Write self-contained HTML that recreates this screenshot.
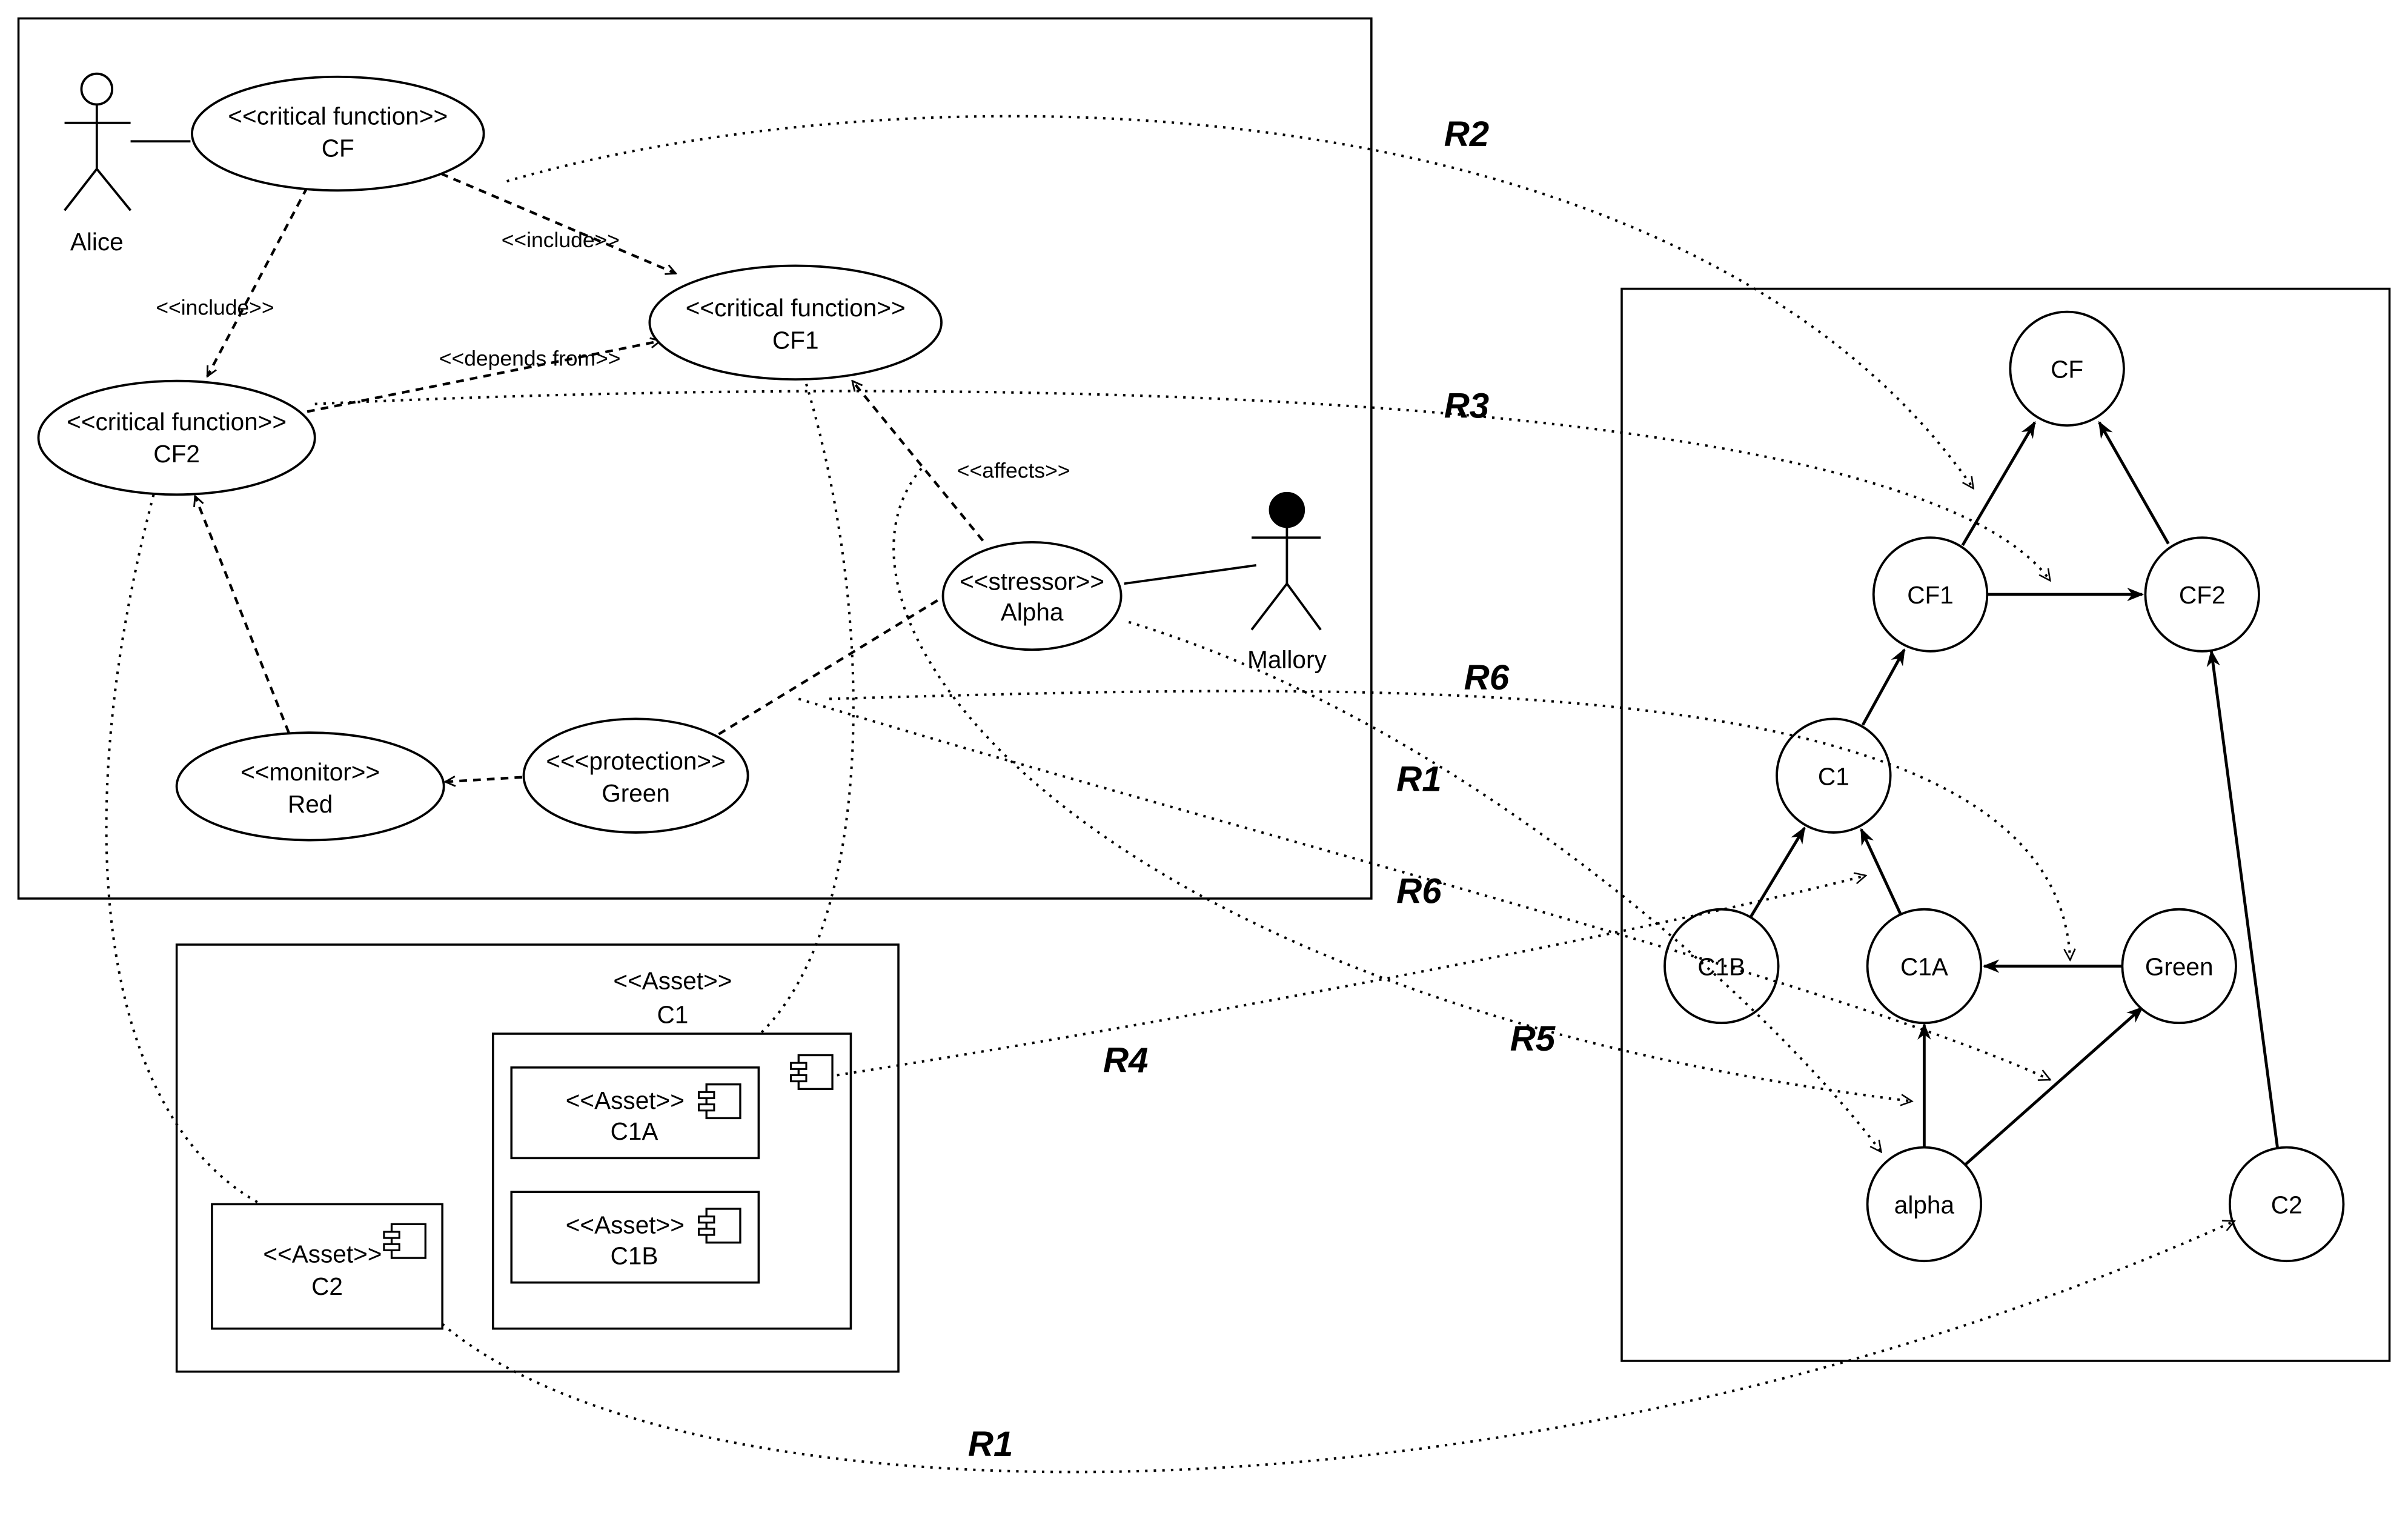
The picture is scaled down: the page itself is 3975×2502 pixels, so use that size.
<!DOCTYPE html>
<html><head><meta charset="utf-8"><style>html,body{margin:0;padding:0;background:#fff}svg{display:block}</style></head>
<body>
<svg width="3975" height="2502" viewBox="0 0 1568 987" xmlns="http://www.w3.org/2000/svg" font-family="Liberation Sans, Arial, sans-serif">
<defs>
<marker id="oa" viewBox="0 0 10 10" refX="9" refY="5" markerWidth="8" markerHeight="8" orient="auto" markerUnits="userSpaceOnUse"><path d="M1,1 L9,5 L1,9" fill="none" stroke="#000" stroke-width="1.4"/></marker>
<marker id="sa" viewBox="0 0 10 10" refX="9" refY="5" markerWidth="11" markerHeight="11" orient="auto" markerUnits="userSpaceOnUse"><path d="M0,1 L10,5 L0,9 L3,5 z" fill="#000"/></marker>
<marker id="da" viewBox="0 0 10 10" refX="9" refY="5" markerWidth="9" markerHeight="9" orient="auto" markerUnits="userSpaceOnUse"><path d="M1,1 L9,5 L1,9" fill="none" stroke="#000" stroke-width="1.1"/></marker>
<g id="comp"><rect x="0" y="0" width="22" height="22" fill="#fff" stroke="#000" stroke-width="1.3"/><rect x="-5" y="5" width="10" height="4" fill="#fff" stroke="#000" stroke-width="1.2"/><rect x="-5" y="13" width="10" height="4" fill="#fff" stroke="#000" stroke-width="1.2"/></g>
</defs>
<rect width="1568" height="987" fill="#fff"/>
<g fill="none" stroke="#000" stroke-width="1.4">
<rect x="12" y="12" width="881" height="573"/>
<rect x="115" y="615" width="470" height="278"/>
<rect x="321" y="673" width="233" height="192"/>
<rect x="333" y="695" width="161" height="59"/>
<rect x="333" y="776" width="161" height="59"/>
<rect x="138" y="784" width="150" height="81"/>
<rect x="1056" y="188" width="500" height="698"/>
</g>
<use href="#comp" x="520" y="687"/>
<use href="#comp" x="460" y="706"/>
<use href="#comp" x="460" y="787"/>
<use href="#comp" x="255" y="797"/>
<!-- dashed arrows -->
<g fill="none" stroke="#000" stroke-width="1.7" stroke-dasharray="5 4" marker-end="url(#oa)">
<path d="M287,113 L440,178"/>
<path d="M200,122 L135,245"/>
<path d="M200,268 L430,222"/>
<path d="M640,352 L555,248"/>
<path d="M188,477 L127,323"/>
<path d="M468,478 L625,382"/>
<path d="M340,506 L290,509"/>
</g>
<!-- ellipses -->
<g fill="#fff" stroke="#000" stroke-width="1.5">
<ellipse cx="220" cy="87" rx="95" ry="37"/>
<ellipse cx="518" cy="210" rx="95" ry="37"/>
<ellipse cx="115" cy="285" rx="90" ry="37"/>
<ellipse cx="672" cy="388" rx="58" ry="35"/>
<ellipse cx="202" cy="512" rx="87" ry="35"/>
<ellipse cx="414" cy="505" rx="73" ry="37"/>
</g>
<!-- actors -->
<g fill="none" stroke="#000" stroke-width="1.5">
<circle cx="63" cy="58" r="10" fill="#fff"/>
<path d="M63,68 V110 M42,80 H85 M63,110 L42,137 M63,110 L85,137"/>
<path d="M85,92 H124"/>
<circle cx="838" cy="332" r="11" fill="#000"/>
<path d="M838,343 V380 M815,350 H860 M838,380 L815,410 M838,380 L860,410"/>
<path d="M732,380 L818,368"/>
</g>
<!-- right graph -->
<g stroke="#000" stroke-width="1.9" marker-end="url(#sa)">
<path d="M1278,355 L1325,275"/>
<path d="M1412,354 L1367,275"/>
<path d="M1294,387 L1395,387"/>
<path d="M1213,472 L1240,423"/>
<path d="M1140,597 L1175,539"/>
<path d="M1238,596 L1212,540"/>
<path d="M1382,629 L1292,629"/>
<path d="M1253,747 L1253,667"/>
<path d="M1280,758 L1395,656"/>
<path d="M1483,747 L1440,424"/>
</g>
<g fill="#fff" stroke="#000" stroke-width="1.5">
<circle cx="1346" cy="240" r="37"/><circle cx="1257" cy="387" r="37"/><circle cx="1434" cy="387" r="37"/>
<circle cx="1194" cy="505" r="37"/><circle cx="1121" cy="629" r="37"/><circle cx="1253" cy="629" r="37"/>
<circle cx="1419" cy="629" r="37"/><circle cx="1253" cy="784" r="37"/><circle cx="1489" cy="784" r="37"/>
</g>
<!-- dotted curves -->
<g fill="none" stroke="#000" stroke-width="1.6" stroke-dasharray="1.6 4" marker-end="url(#da)">
<path d="M330,118 C600,40 1100,50 1285,318"/>
<path d="M205,263 C700,240 1250,260 1335,378"/>
<path d="M540,455 C900,445 1340,430 1348,625"/>
<path d="M735,405 C950,470 1150,650 1225,750"/>
<path d="M520,455 C800,540 1200,640 1335,703"/>
<path d="M600,305 C520,400 700,650 1245,717"/>
<path d="M545,700 C800,660 1100,600 1215,570"/>
<path d="M288,862 C450,1000 1000,1000 1455,795"/>
</g>
<g fill="none" stroke="#000" stroke-width="1.6" stroke-dasharray="1.6 4">
<path d="M525,250 C570,400 570,600 495,673"/>
<path d="M100,322 C40,550 70,730 170,784"/>
</g>
<g font-size="16" text-anchor="middle" fill="#000">
<text x="1346" y="246">CF</text><text x="1257" y="393">CF1</text><text x="1434" y="393">CF2</text>
<text x="1194" y="511">C1</text><text x="1121" y="635">C1B</text><text x="1253" y="635">C1A</text>
<text x="1419" y="635">Green</text><text x="1253" y="790">alpha</text><text x="1489" y="790">C2</text>
<text x="220" y="81">&lt;&lt;critical function&gt;&gt;</text><text x="220" y="102">CF</text>
<text x="518" y="206">&lt;&lt;critical function&gt;&gt;</text><text x="518" y="227">CF1</text>
<text x="115" y="280">&lt;&lt;critical function&gt;&gt;</text><text x="115" y="301">CF2</text>
<text x="672" y="384">&lt;&lt;stressor&gt;&gt;</text><text x="672" y="404">Alpha</text>
<text x="202" y="508">&lt;&lt;monitor&gt;&gt;</text><text x="202" y="529">Red</text>
<text x="414" y="501">&lt;&lt;&lt;protection&gt;&gt;</text><text x="414" y="522">Green</text>
<text x="63" y="163">Alice</text><text x="838" y="435">Mallory</text>
<text x="438" y="644">&lt;&lt;Asset&gt;&gt;</text><text x="438" y="666">C1</text>
<text x="407" y="722">&lt;&lt;Asset&gt;&gt;</text><text x="413" y="742">C1A</text>
<text x="407" y="803">&lt;&lt;Asset&gt;&gt;</text><text x="413" y="823">C1B</text>
<text x="210" y="822">&lt;&lt;Asset&gt;&gt;</text><text x="213" y="843">C2</text>
</g>
<g font-size="14" text-anchor="middle" fill="#000">
<text x="365" y="161">&lt;&lt;include&gt;&gt;</text>
<text x="140" y="205">&lt;&lt;include&gt;&gt;</text>
<text x="345" y="238">&lt;&lt;depends from&gt;&gt;</text>
<text x="660" y="311">&lt;&lt;affects&gt;&gt;</text>
</g>
<g font-size="23" font-weight="bold" font-style="italic" text-anchor="middle" fill="#000">
<text x="955" y="95">R2</text><text x="955" y="272">R3</text><text x="968" y="449">R6</text>
<text x="924" y="515">R1</text><text x="924" y="588">R6</text><text x="998" y="684">R5</text>
<text x="733" y="698">R4</text><text x="645" y="948">R1</text>
</g>
</svg>
</body></html>
